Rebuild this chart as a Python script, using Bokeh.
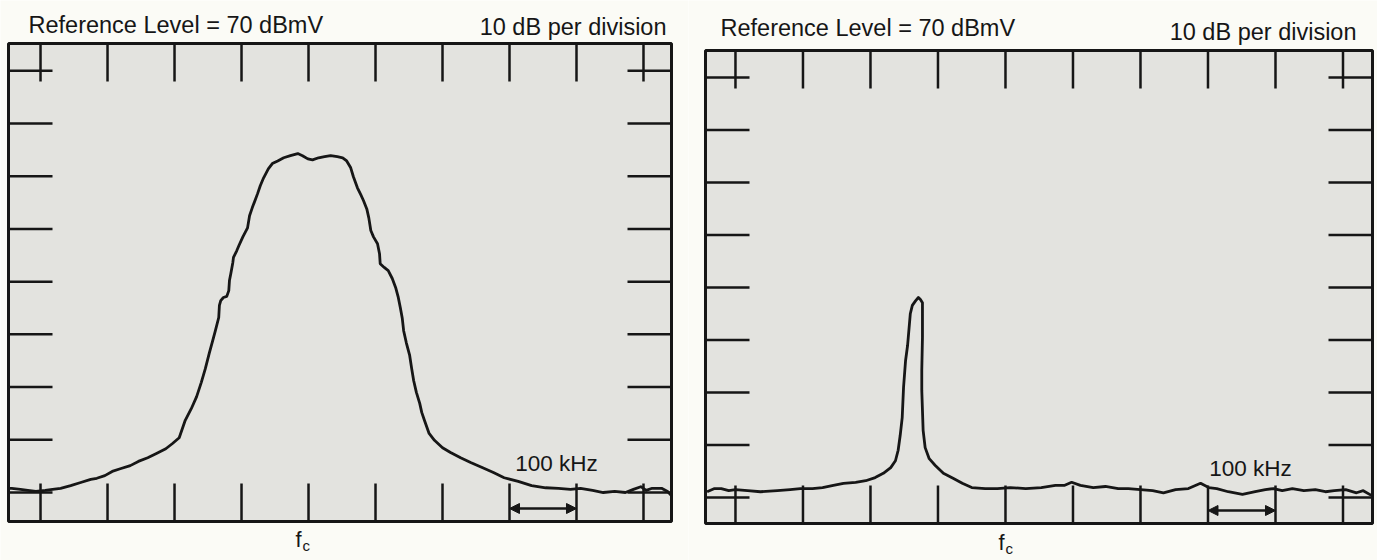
from bokeh.plotting import figure
from bokeh.layouts import row
from bokeh.models import Label, Arrow, NormalHead, Range1d
from bokeh.embed import file_html
from bokeh.resources import INLINE

# ---------------- data (frequency offset from fc in kHz, level in dBmV) ----------------
left_offset_khz = [-448, -443, -430, -419, -407, -393, -382, -370, -355, -340, -325, -316, -304,
                   -293, -281, -266, -254, -240, -227, -213, -203, -193, -184, -175, -167, -160,
                   -154, -148, -143, -139, -134, -133, -131, -127, -122, -119, -118, -116, -113,
                   -112, -107, -104, -98, -91, -88, -84, -79, -76, -72, -67, -60, -54, -46, -37,
                   -27, -16, -9, -1, 6, 15, 24, 33, 43, 51, 57, 63, 67, 73, 78, 82, 87, 90, 93,
                   97, 103, 106, 107, 113, 119, 125, 130, 134, 137, 140, 142, 146, 151, 154, 157,
                   161, 166, 169, 173, 180, 188, 200, 212, 227, 242, 260, 276, 292, 313, 333, 354,
                   373, 391, 406, 424, 440, 457, 473, 485, 496, 504, 513, 527, 536, 542]
left_level_dbmv = [-9.2, -9.2, -9.4, -9.6, -9.8, -9.6, -9.4, -9.2, -8.7, -8.1, -7.5, -7.3, -6.8,
                   -6.0, -5.5, -4.9, -4.1, -3.4, -2.6, -1.7, -0.7, 0.4, 3.7, 5.9, 8.2, 10.9,
                   13.5, 16.5, 18.8, 20.7, 23.2, 25.5, 26.4, 27.0, 27.2, 28.3, 30.2, 31.5, 33.6,
                   34.6, 35.9, 36.8, 38.5, 40.2, 42.5, 44.0, 45.7, 46.7, 48.2, 49.7, 51.4, 52.4,
                   52.9, 53.5, 53.9, 54.3, 53.9, 53.3, 53.1, 53.5, 53.7, 53.9, 53.7, 53.5, 52.9,
                   51.6, 49.9, 47.8, 46.5, 45.4, 43.8, 42.1, 39.7, 38.5, 37.2, 35.3, 33.4, 32.7,
                   32.1, 30.6, 28.9, 27.0, 25.1, 23.0, 20.7, 18.4, 16.0, 13.5, 11.2, 9.0, 6.9,
                   5.2, 3.7, 1.2, -0.1, -1.5, -2.4, -3.4, -4.3, -5.3, -6.2, -7.2, -7.9, -8.7,
                   -9.1, -9.2, -9.4, -9.2, -9.6, -10.0, -9.8, -10.0, -9.4, -8.9, -9.6, -9.2,
                   -9.2, -9.8, -10.6]

right_offset_khz = [-442, -431, -421, -410, -400, -382, -363, -338, -319, -304, -286, -271, -255,
                    -240, -222, -207, -193, -181, -170, -163, -159, -156, -153, -151, -148, -145,
                    -144, -141, -138, -133, -129, -126, -123, -123, -123, -124, -124, -123, -122,
                    -119, -113, -104, -92, -77, -64, -50, -30, -12, 7, 30, 53, 74, 87, 98, 111,
                    130, 148, 167, 182, 200, 218, 234, 252, 271, 289, 301, 313, 330, 351, 370,
                    385, 397, 410, 425, 442, 459, 474, 487, 504, 520, 530, 542]
right_level_dbmv = [-8.9, -8.3, -8.3, -8.7, -8.5, -8.7, -8.9, -8.7, -8.5, -8.3, -8.3, -8.1, -7.7,
                    -7.3, -7.1, -6.8, -6.2, -5.4, -4.3, -3.0, -1.0, 1.8, 5.2, 11.0, 16.1, 19.0,
                    20.5, 25.0, 26.6, 27.5, 28.1, 27.7, 27.1, 23.7, 20.5, 14.2, 10.4, 6.6, 2.8,
                    -0.5, -2.6, -3.9, -5.4, -6.4, -7.3, -8.1, -8.3, -8.3, -8.1, -8.3, -8.1, -7.7,
                    -7.7, -7.1, -7.7, -8.1, -7.9, -8.3, -8.3, -8.5, -8.7, -9.1, -8.5, -8.3, -7.3,
                    -8.1, -8.3, -8.9, -9.4, -8.9, -8.5, -8.3, -8.7, -8.3, -8.7, -8.5, -8.9, -8.7,
                    -8.5, -9.1, -8.7, -9.6]

grid_x_khz = [-400, -300, -200, -100, 0, 100, 200, 300, 400, 500]
grid_y_dbmv = [70, 60, 50, 40, 30, 20, 10, 0, -10]
span_khz = [300, 400]
ref_text = "Reference Level = 70 dBmV"
scale_text = "10 dB per division"
span_text = "100 kHz"
fc_text = ["f", "c"]

# ---------------- style ----------------
PAGE_BG = "#fbfbf6"
SCREEN_BG = "#e3e3df"
INK = "#161616"
FONT = "Liberation Sans"
H = 560


def make_panel(xs, ys, screen_x, screen_y, width, box, txt):
    """screen_x / screen_y: data extents of the analyser screen.
    box: (left, top, right, bottom) pixel position of the screen inside this figure."""
    bl, bt, br, bb = box
    sx0, sx1 = screen_x
    sy0, sy1 = screen_y
    ppx = (sx1 - sx0) / (br - bl)   # data per pixel
    ppy = (sy1 - sy0) / (bb - bt)

    def fx(px):  # figure pixel -> data x
        return sx0 + (px - bl) * ppx

    def fy(py):  # figure pixel (from top) -> data y
        return sy1 - (py - bt) * ppy

    p = figure(width=width, height=H,
               x_range=Range1d(fx(0), fx(width)),
               y_range=Range1d(fy(H), fy(0)),
               output_backend="svg", toolbar_location=None,
               x_axis_location=None, y_axis_location=None,
               min_border=0, background_fill_color=PAGE_BG,
               border_fill_color=PAGE_BG, outline_line_color=None)
    p.grid.visible = False

    # analyser screen
    p.quad(left=[sx0], right=[sx1], bottom=[sy0], top=[sy1],
           fill_color=SCREEN_BG, line_color=INK, line_width=3)

    lv = 38 * ppy
    lh = 44 * ppx
    ax0, ax1, ay0, ay1 = [], [], [], []
    for g in grid_x_khz:
        ax0 += [g, g]; ax1 += [g, g]
        ay0 += [sy1, sy0]; ay1 += [sy1 - lv, sy0 + lv]
    for g in grid_y_dbmv:
        ax0 += [sx0, sx1]; ax1 += [sx0 + lh, sx1 - lh]
        ay0 += [g, g]; ay1 += [g, g]
    p.segment(x0=ax0, y0=ay0, x1=ax1, y1=ay1, line_color=INK, line_width=2.5)

    p.line(xs, ys, line_color=INK, line_width=2.8, line_join="round")

    # 100 kHz marker
    p.add_layout(Arrow(start=NormalHead(size=10, fill_color=INK, line_color=INK),
                       end=NormalHead(size=10, fill_color=INK, line_color=INK),
                       x_start=span_khz[0], x_end=span_khz[1],
                       y_start=fy(txt["arrow_y"]), y_end=fy(txt["arrow_y"]),
                       line_color=INK, line_width=2.5))
    p.add_layout(Label(x=fx(txt["span"][0]), y=fy(txt["span"][1]), text=span_text,
                       text_font=FONT, text_font_size="22.5px", text_color=INK,
                       text_align="center", text_baseline="middle"))
    # header texts
    p.add_layout(Label(x=fx(txt["ref"][0]), y=fy(txt["ref"][1]), text=ref_text,
                       text_font=FONT, text_font_size="23.5px", text_color=INK,
                       text_align="left", text_baseline="middle"))
    p.add_layout(Label(x=fx(txt["scale"][0]), y=fy(txt["scale"][1]), text=scale_text,
                       text_font=FONT, text_font_size="23.5px", text_color=INK,
                       text_align="right", text_baseline="middle"))
    # f_c
    p.add_layout(Label(x=fx(txt["f"][0]), y=fy(txt["f"][1]), text=fc_text[0],
                       text_font=FONT, text_font_size="22px", text_color=INK,
                       text_align="left", text_baseline="middle"))
    p.add_layout(Label(x=fx(txt["f"][0] + 7), y=fy(txt["f"][1] + 6), text=fc_text[1],
                       text_font=FONT, text_font_size="15px", text_color=INK,
                       text_align="left", text_baseline="middle"))
    return p


LEFT_W = 688
left = make_panel(left_offset_khz, left_level_dbmv, (-447.8, 541.8), (-15.5, 75.18),
                  LEFT_W, (8, 43, 671, 521),
                  {"arrow_y": 508, "span": (556, 463), "ref": (28, 24),
                   "scale": (666, 26), "f": (295, 539)})
right = make_panel(right_offset_khz, right_level_dbmv, (-444.4, 543.7), (-14.95, 75.14),
                   689, (705 - LEFT_W, 50, 1372 - LEFT_W, 523),
                   {"arrow_y": 510, "span": (1250 - LEFT_W, 468), "ref": (720 - LEFT_W, 27),
                    "scale": (1356 - LEFT_W, 31), "f": (998 - LEFT_W, 542)})

layout = row(left, right)
open("out.html", "w").write(file_html(layout, INLINE))
